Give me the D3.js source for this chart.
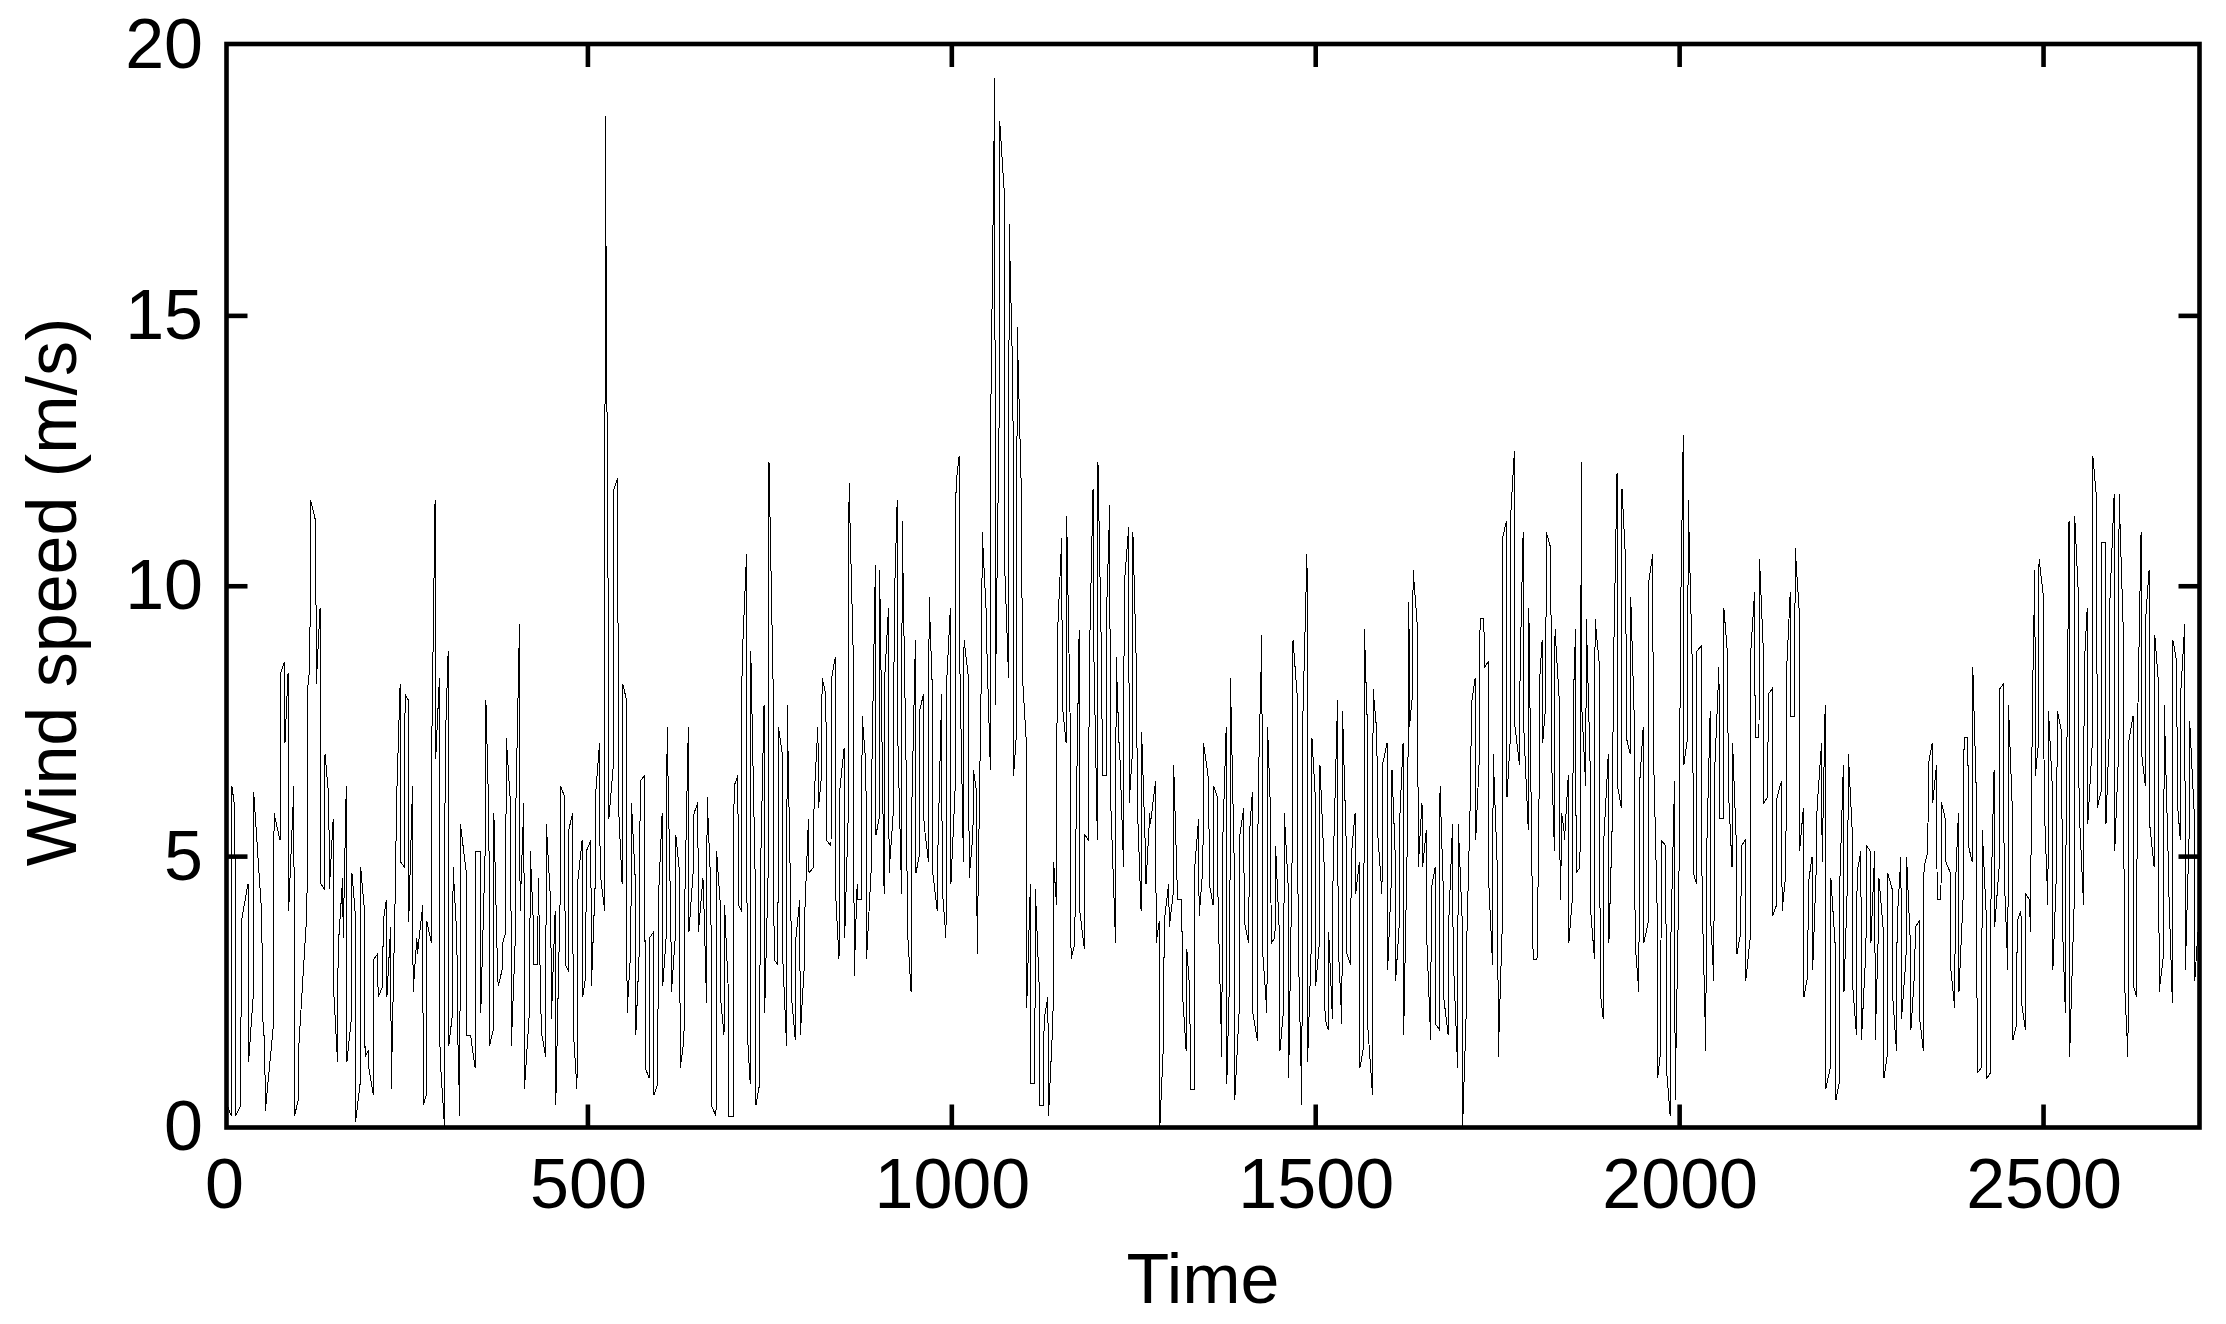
<!DOCTYPE html>
<html>
<head>
<meta charset="utf-8">
<script src="https://cdn.jsdelivr.net/npm/d3@7"></script>
<style>
html,body{margin:0;padding:0;background:#fff;}
svg{display:block;}
text{font-family:Arial,"Liberation Sans",sans-serif;fill:#000;}
</style>
</head>
<body>
<svg id="chart" width="2226" height="1324"></svg>
<script>
// Wind speed series: each stroke is a pair of consecutive values,
// with the time at which the stroke sits. One pair of arrays per time segment.
const tA = [4,10,15,23,33,40,52,56,68,77,83,88,96,102,114,118,126,132,138,144,150,156,163,168,175,180,187,193,198,205,211,218,223,229,236,242,248,253,259,265,273,278,285,290,296,303,308,314,320,324,333,339,345,352,359,364,370,376,382,387,394,400,406,412,420,425,431,436,442,449];
const segA = [4.3,0.4, 0.2,6.3, 5.9,0.2, 0.4,3.8, 4.5,1.2, 2.4,6.2, 3.9,2.1, 1.5,0.3, 1.9,5.8, 5.3,8.4, 8.6,7.1, 8.4,4.0, 6.3,0.2, 0.5,1.5, 4.0,8.1, 8.5,11.6, 11.2,8.2, 9.6,4.5, 4.4,6.9, 6.1,4.4, 5.7,2.5, 1.2,3.3, 4.6,3.5, 6.3,1.2, 2.0,4.7, 4.0,0.1, 0.8,4.8, 4.0,1.3, 1.4,1.1, 0.6,3.1, 3.2,2.4, 2.6,3.8, 4.2,2.4, 3.7,0.7, 4.8,5.9, 8.2,4.9, 4.8,8.0, 7.9,3.8, 6.3,2.5, 3.5,3.2, 4.1,0.4, 0.6,3.8, 3.4,7.4, 11.6,6.8, 8.3,1.3, 0.0,7.0, 8.8,1.5, 2.1,4.8, 3.5,1.9, 0.2,5.6, 4.7,1.7, 1.7,1.6, 1.1,5.1, 5.1,2.1, 5.2,7.9, 5.7,1.5, 1.8,5.8, 2.8,2.6, 2.9,3.4, 3.6,7.2, 5.9,1.5, 3.4,5.8, 9.3,4.0, 6.0,0.7, 2.2,5.1, 3.8,3.0, 3.0,4.6, 1.8,1.7, 1.3,5.6, 4.1,2.0];
const tB = [455,462,468,473,479,485,492,497,504,510,516,523,528,535,541,547,553,559,565,571,578,584,590,596,602,608,614,620,626,632,638,645,651,658,663,669,676,682,687,693,700,706,711,718,723,730,736,742,748,755,761,767,773,779,785,791,797,803,810,816,821,827,834,840,845,852,858,865,870,876,882,889,895,900];
const segB = [4.0,0.4, 4.3,6.3, 6.1,3.0, 2.9,5.5, 5.8,1.8, 0.7,4.5, 5.3,2.4, 2.8,5.1, 5.3,2.6, 4.5,6.2, 7.1,4.7, 4.0,18.7, 9.3,5.7, 6.7,11.8, 12.0,6.0, 4.5,8.2, 7.9,2.1, 3.3,6.0, 4.6,1.7, 3.4,6.4, 6.5,1.1, 0.9,3.5, 3.6,0.6, 0.8,4.2, 5.8,2.6, 3.6,7.4, 3.7,2.5, 3.5,5.4, 4.7,1.1, 1.6,4.0, 7.4,3.6, 4.8,5.8, 6.0,3.6, 4.6,4.4, 2.3,6.1, 4.4,0.4, 0.2,5.1, 4.1,2.3, 1.7,4.1, 2.5,0.2, 0.2,6.3, 6.5,4.1, 4.0,8.6, 10.6,1.8, 0.8,8.8, 4.5,0.4, 0.8,4.5, 7.8,2.1, 4.9,12.3, 7.8,3.1, 3.0,7.4, 6.9,3.1, 1.5,7.8, 3.9,2.4, 1.6,3.5, 4.2,1.7, 2.9,3.9, 5.7,4.7, 4.8,6.1, 7.4,5.9, 6.5,8.3, 8.0,5.3, 5.2,8.3, 8.7,4.2, 3.1,6.2, 7.0,3.5, 5.9,11.9, 8.5,2.8, 4.5,4.2, 4.2,7.6, 6.7,3.1, 4.7,6.4, 10.4,5.4, 5.7,10.3];
const tC = [907,913,920,925,931,938,944,950,955,961,968,973,980,986,992,998,1005,1010,1016,1023,1029,1034,1041,1047,1053,1059,1065,1072,1078,1084,1089,1096,1102,1108,1114,1120,1126,1132,1139,1144,1151,1157,1163,1169,1175,1182,1188,1194,1200,1206,1212,1217,1225,1230,1236,1243,1248,1254,1260,1266,1272,1280,1285,1291,1298,1304,1310,1316,1322,1327,1333,1339,1345,1353,1359];
const segC = [4.3,8.3, 9.6,4.7, 5.9,9.6, 11.6,7.2, 4.3,11.2, 6.0,3.7, 2.5,5.8, 9.0,4.7, 5.0,7.7, 8.0,5.6, 4.9,9.8, 8.2,4.7, 4.0,5.1, 8.0,4.4, 3.5,8.2, 9.6,4.5, 6.4,11.9, 12.4,8.7, 4.9,9.0, 8.3,4.6, 5.4,6.6, 6.2,3.2, 8.8,11.0, 9.6,9.0, 6.6,13.5, 19.4,7.8, 13.1,18.6, 17.3,10.3, 8.3,16.7, 13.7,6.5, 7.3,14.8, 11.5,8.4, 7.2,2.2, 4.5,0.8, 0.8,4.4, 2.6,0.4, 0.4,2.0, 2.4,0.2, 2.0,4.9, 4.1,9.0, 10.9,7.8, 7.1,11.3, 7.2,3.1, 3.4,4.8, 9.2,4.0, 3.3,5.4, 5.3,8.5, 11.8,9.0, 5.3,12.3, 8.4,6.5, 6.5,9.6, 11.5,6.2, 3.4,8.7, 7.0,6.9, 4.8,10.0, 11.1,6.0, 6.9,11.0, 8.3,6.0, 4.0,7.3, 5.1,4.5, 5.8,5.6, 6.4,3.4, 3.8,0.0, 1.6,3.8, 4.5,3.7, 4.3,6.7, 4.3,4.2, 4.2,2.5, 1.4,3.3, 2.5,0.7, 0.7,4.8, 5.7,3.9, 4.8,7.1, 6.4,4.5, 4.1,6.3];
const tD = [1365,1371,1377,1382,1388,1395,1401,1408,1413,1420,1426,1433,1438,1444,1450,1456,1462,1468,1475,1481,1488,1494,1499,1505,1512,1517,1523,1530,1536,1542,1548,1554,1560,1566,1571,1578,1584,1591,1598,1604,1609,1615,1620,1626,1628,1633,1640,1646,1652,1658,1664,1670,1675,1682,1688,1695,1701,1707,1713,1719,1725,1731,1737,1743,1750,1756,1762,1767,1773,1780,1785,1792,1798,1804,1807,1811];
const segD = [6.1,4.1, 1.3,5.1, 7.4,0.8, 3.0,8.3, 4.9,0.5, 2.2,5.4, 5.9,3.8, 3.4,5.4, 6.2,2.1, 1.6,6.1, 9.1,3.3, 2.1,7.4, 5.8,3.4, 3.5,5.2, 3.6,1.4, 2.2,5.8, 4.5,0.9, 5.4,9.0, 7.9,3.5, 0.4,7.3, 10.6,1.2, 3.4,7.2, 6.2,2.6, 3.4,6.7, 4.7,2.0, 1.8,3.6, 2.0,4.7, 7.9,3.4, 1.9,7.7, 5.2,3.2, 3.0,5.0, 5.8,4.3, 4.9,1.1, 1.5,9.2, 7.4,1.8, 0.6,8.1, 7.3,5.5, 4.3,6.7, 7.1,2.9, 4.6,6.6, 5.1,2.7, 3.8,5.8, 7.1,1.7, 5.4,6.8, 9.7,7.4, 8.0,10.3, 9.2,4.8, 6.0,4.8, 5.5,3.4, 1.6,4.4, 4.8,1.9, 1.8,6.3, 4.5,2.4, 1.7,3.8, 5.6,3.2, 1.1,5.6, 3.9,0.0, 2.2,3.6, 6.4,7.8, 8.3,5.3, 6.9,9.4, 9.4,8.5, 8.6,4.5, 3.0,6.9, 4.6,1.3, 3.6,10.9, 11.2,6.1, 7.1,11.3, 12.5,7.4, 6.7,8.5, 11.0,7.4, 5.5,9.6, 3.7,3.1, 3.1,3.7, 6.3,8.3, 9.0,7.1];
const tE = [1816,1823,1828,1835,1837,1841,1847,1853,1857,1863,1865,1871,1877,1883,1890,1895,1902,1908,1914,1920,1926,1932,1938,1944,1950,1957,1963,1969,1974,1981,1987,1993,2000,2005,2011,2018,2023,2030,2036,2042,2047,2054,2060,2066,2072,2078,2084,2090,2097,2103,2109,2115,2121,2127,2133,2140,2146,2152,2158,2164,2170,2176,2182,2188,2195,2200,2207,2214,2219,2225,2231,2237,2243,2249,2256,2262];
const segE = [7.8,11.0, 10.7,6.9, 5.1,9.2, 7.8,4.2, 4.8,5.8, 5.5,5.3, 6.5,3.4, 4.3,7.8, 9.2,4.7, 4.8,6.7, 12.3,7.7, 6.3,9.4, 6.7,4.0, 3.1,9.4, 8.5,2.5, 2.0,5.3, 6.9,3.4, 5.9,8.3, 12.1,6.3, 5.9,11.8, 10.4,7.2, 6.9,9.8, 7.4,3.4, 2.5,6.3, 7.4,3.4, 3.8,10.1, 10.6,7.1, 4.1,0.9, 1.4,5.3, 5.2,1.1, 0.2,3.4, 6.4,0.5, 5.4,9.0, 12.8,6.7, 7.2,11.6, 8.2,4.7, 4.5,8.8, 8.9,4.3, 1.4,4.9, 7.7,3.8, 2.7,6.5, 8.5,5.7, 5.7,9.6, 8.7,6.3, 4.8,7.1, 5.2,3.2, 3.6,5.2, 5.3,2.7, 3.5,8.8, 9.9,7.2, 7.2,10.5, 8.8,6.0, 6.1,8.0, 8.1,3.9, 4.1,6.1, 6.4,4.0, 4.7,8.4, 9.9,7.6, 7.6,10.7, 9.6,5.1, 5.9,2.4, 2.8,4.5, 5.0,2.9, 4.9,5.9, 7.1,4.9, 7.8,0.7, 1.1,4.6, 3.3,0.5, 0.8,4.4, 6.7,2.5, 4.7,6.9, 5.5,2.6, 1.7,4.7, 5.1,1.6, 3.3,5.2, 5.1,3.4];
const tF = [2268,2273,2280,2285,2292,2298,2304,2311,2317,2323,2329,2335,2341,2347,2353,2359,2365,2372,2378,2383,2390,2396,2402,2408,2415,2421,2427,2432,2439,2445,2451,2457,2463,2469,2475,2481,2484,2488,2493,2500,2506,2512,2518,2525,2530,2535,2542,2548,2555,2560,2567,2573,2579,2585,2590,2597,2603,2610,2616,2623,2628,2634,2640,2645,2652,2658,2665,2671,2677,2683,2688,2694,2700,2707,2712];
const segF = [5.1,1.6, 3.6,4.6, 3.6,0.9, 1.3,4.7, 4.4,2.4, 1.4,3.8, 5.0,2.0, 3.1,5.0, 3.4,1.8, 2.9,3.7, 3.8,2.0, 1.4,4.8, 5.1,6.7, 7.1,6.0, 6.7,4.2, 4.2,6.0, 5.7,4.9, 4.7,2.9, 2.2,4.4, 5.8,2.5, 4.4,7.2, 7.2,5.2, 4.9,8.5, 6.0,1.0, 1.1,5.5, 4.0,0.9, 1.0,4.2, 6.6,3.7, 4.8,8.1, 8.2,4.7, 2.9,7.8, 5.9,1.6, 1.9,3.8, 4.0,2.3, 1.8,4.3, 4.2,3.6, 6.8,7.9, 10.3,6.5, 7.1,10.5, 9.8,6.0, 4.1,7.7, 6.3,2.9, 4.8,7.7, 7.3,3.8, 2.1,5.1, 11.2,1.3, 4.1,11.3, 9.8,5.9, 4.1,8.5, 9.6,5.6, 7.1,12.4, 11.6,5.9, 6.2,10.8, 10.8,5.6, 7.2,9.6, 11.7,5.1, 6.9,11.7, 9.0,2.8, 1.3,7.1, 7.6,2.6, 2.4,7.1, 11.0,6.9, 6.3,9.5, 10.3,5.6, 4.8,9.1, 8.2,2.5, 3.2,7.8, 5.1,4.5, 2.3,9.0, 8.6,6.0, 5.3,8.1, 9.3,2.9, 5.4,7.5, 5.8,2.7, 3.6,2.7];

const xTicks = [0, 500, 1000, 1500, 2000, 2500];
const yTicks = [0, 5, 10, 15, 20];
const xTitle = "Time";
const yTitle = "Wind speed (m/s)";

const segTimes = [tA, tB, tC, tD, tE, tF];
const segVals = [segA, segB, segC, segD, segE, segF];
const series = [];
segTimes.forEach((times, k) => {
  const vals = segVals[k];
  times.forEach((t, j) => {
    if (2 * j + 1 >= vals.length) return;
    series.push({t: t, v: vals[2 * j]});
    series.push({t: t + 0.8, v: vals[2 * j + 1]});
  });
});

const svg = d3.select("#chart");
const L = 226.5, R = 2199.5, T = 44, B = 1127.5;
const x = d3.scaleLinear().domain([0, 2714]).range([224, 2199.3]);
const y = d3.scaleLinear().domain([0, 20]).range([1127, 45.5]);

svg.append("rect").attr("width", 2226).attr("height", 1324).attr("fill", "#fff");

// data line
svg.append("path")
  .datum(series)
  .attr("fill", "none")
  .attr("stroke", "#000")
  .attr("stroke-width", 1)
  .attr("shape-rendering", "crispEdges")
  .attr("d", d3.line().x(d => x(d.t)).y(d => y(d.v)));

// frame
svg.append("rect")
  .attr("x", L).attr("y", T).attr("width", R - L).attr("height", B - T)
  .attr("fill", "none").attr("stroke", "#000").attr("stroke-width", 4.6);

// inward ticks
const tl = 23;
xTicks.filter(v => v > 0).forEach(v => {
  const px = x(v);
  svg.append("line").attr("x1", px).attr("x2", px).attr("y1", B).attr("y2", B - tl)
    .attr("stroke", "#000").attr("stroke-width", 4.6);
  svg.append("line").attr("x1", px).attr("x2", px).attr("y1", T).attr("y2", T + tl)
    .attr("stroke", "#000").attr("stroke-width", 4.6);
});
yTicks.filter(v => v > 0 && v < 20).forEach(v => {
  const py = y(v);
  svg.append("line").attr("x1", L).attr("x2", L + 21).attr("y1", py).attr("y2", py)
    .attr("stroke", "#000").attr("stroke-width", 4.6);
  svg.append("line").attr("x1", R).attr("x2", R - 21).attr("y1", py).attr("y2", py)
    .attr("stroke", "#000").attr("stroke-width", 4.6);
});

// tick labels via d3 axes
const gx = svg.append("g").attr("transform", `translate(0,${B})`)
  .call(d3.axisBottom(x).tickValues(xTicks).tickSize(0).tickPadding(31).tickFormat(d3.format("d")));
gx.select(".domain").remove();
gx.selectAll("text").attr("font-size", 70).attr("font-family", "Arial, 'Liberation Sans', sans-serif").attr("fill", "#000");

const gy = svg.append("g").attr("transform", `translate(${L},0)`)
  .call(d3.axisLeft(y).tickValues(yTicks).tickSize(0).tickPadding(23.5).tickFormat(d3.format("d")));
gy.select(".domain").remove();
gy.selectAll("text").attr("font-size", 70).attr("font-family", "Arial, 'Liberation Sans', sans-serif").attr("fill", "#000");

// titles
svg.append("text").attr("x", 1203).attr("y", 1303).attr("text-anchor", "middle")
  .attr("font-size", 70).text(xTitle);
svg.append("text").attr("transform", "translate(76,592) rotate(-90)").attr("text-anchor", "middle")
  .attr("font-size", 70).text(yTitle);
</script>
</body>
</html>
